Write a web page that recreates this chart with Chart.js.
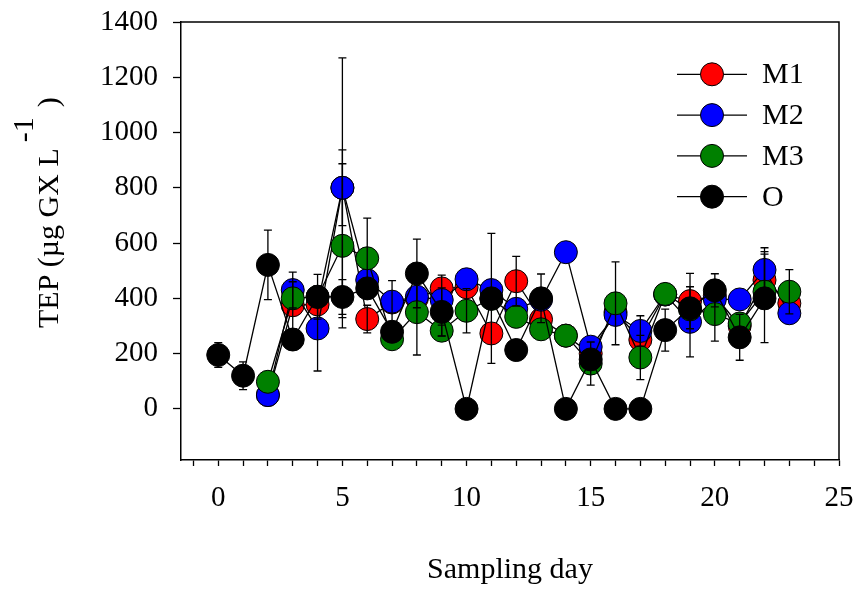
<!DOCTYPE html>
<html><head><meta charset="utf-8">
<script src="https://cdn.jsdelivr.net/npm/chart.js@4/dist/chart.umd.min.js"></script>
<style>html,body{margin:0;padding:0;background:#fff}</style>
</head><body>
<canvas id="c" width="859" height="592"></canvas>
<script>
// ---- data ----
const days = [0,1,2,3,4,5,6,7,8,9,10,11,12,13,14,15,16,17,18,19,20,21,22,23];
const seriesNames = ['M1','M2','M3','O'];
const seriesColors = ['#ff0000','#0000ff','#008000','#000000'];
const M1 = [null,null,50,375,378,800,325,385,400,436,440,273,462,324,265,200,350,250,414,390,410,300,466,382];
const M2 = [null,null,50,430,291,800,466,388,406,394,469,430,362,395,567,225,340,282,414,315,396,396,503,346];
const M3 = [null,null,98,400,405,590,545,252,350,283,355,398,333,288,265,164,382,186,416,360,343,309,424,424];
const O  = [195,120,521,251,406,405,436,279,490,351,0,400,213,400,0,179,0,0,285,364,429,259,400,null];
const M1err = [0,0,0,85,0,137,50,0,0,48,0,0,90,0,0,0,0,0,0,100,0,0,103,0];
const M2err = [0,0,0,65,154,470,0,76,0,0,0,0,0,0,0,0,0,55,0,127,0,0,80,0];
const M3err = [0,0,0,0,0,297,145,0,155,20,80,0,0,0,0,78,150,80,0,0,98,0,0,80];
const Oerr  = [45,50,126,0,81,63,0,0,124,87,0,235,0,88,0,0,0,0,76,0,60,83,160,0];
const xTickValues = [-1,0,1,2,3,4,5,6,7,8,9,10,11,12,13,14,15,16,17,18,19,20,21,22,23,24,25];
const xLabelValues = [0,5,10,15,20,25];
const yTickValues = [0,200,400,600,800,1000,1200,1400];
const xTitle = 'Sampling day';
const yTitleMain = 'TEP (\u00b5g GX L';
const yTitleSup = '-1';
const yTitleEnd = ')';

const FONT = '"Liberation Serif", "Times New Roman", serif';
const values = [M1, M2, M3, O];
const errs = [M1err, M2err, M3err, Oerr];

const datasets = seriesNames.map((name, k) => ({
  label: name,
  data: days.map((d, i) => ({x: d, y: values[k][i]})),
  borderColor: '#000',
  borderWidth: 1.3,
  pointRadius: 11.5,
  pointBackgroundColor: seriesColors[k],
  pointBorderColor: '#000',
  pointBorderWidth: 1,
  fill: false,
  tension: 0,
  order: 3 - k,
  errs: errs[k]
}));

const errorBars = {
  id: 'errorBars',
  afterDatasetsDraw(chart) {
    const {ctx, scales: {x, y}} = chart;
    ctx.save();
    ctx.strokeStyle = '#000';
    ctx.lineWidth = 1.3;
    chart.data.datasets.forEach(ds => {
      ds.data.forEach((p, i) => {
        const e = ds.errs[i];
        if (p.y === null || !e) return;
        const px = x.getPixelForValue(p.x);
        const yt = y.getPixelForValue(p.y + e);
        const yb = y.getPixelForValue(p.y - e);
        ctx.beginPath();
        ctx.moveTo(px, yt); ctx.lineTo(px, yb);
        ctx.moveTo(px - 4, yt); ctx.lineTo(px + 4, yt);
        ctx.moveTo(px - 4, yb); ctx.lineTo(px + 4, yb);
        ctx.stroke();
      });
    });
    ctx.restore();
  }
};

const decorations = {
  id: 'decorations',
  afterDraw(chart) {
    const {ctx, chartArea: a} = chart;
    ctx.save();
    // top and right frame lines
    ctx.strokeStyle = '#000';
    ctx.lineWidth = 1.5;
    ctx.beginPath();
    ctx.moveTo(a.left, a.top); ctx.lineTo(a.right, a.top); ctx.lineTo(a.right, a.bottom);
    ctx.stroke();
    // legend
    ctx.font = '30px ' + FONT;
    ctx.textBaseline = 'middle';
    ctx.fillStyle = '#000';
    seriesNames.forEach((name, k) => {
      const cy = 74.3 + k * 40.8;
      ctx.lineWidth = 1.3;
      ctx.strokeStyle = '#000';
      ctx.beginPath(); ctx.moveTo(677, cy); ctx.lineTo(747, cy); ctx.stroke();
      ctx.beginPath(); ctx.arc(712, cy, 11.5, 0, Math.PI * 2);
      ctx.fillStyle = seriesColors[k]; ctx.fill();
      ctx.lineWidth = 1; ctx.stroke();
      ctx.fillStyle = '#000';
      ctx.textAlign = 'left';
      ctx.fillText(name, 762, cy + 1);
    });
    // x title
    ctx.textAlign = 'center';
    ctx.textBaseline = 'alphabetic';
    ctx.fillText(xTitle, (a.left + a.right) / 2, 578);
    // y title (rotated)
    ctx.translate(58, 328);
    ctx.rotate(-Math.PI / 2);
    ctx.textAlign = 'left';
    ctx.fillText(yTitleMain, 0, 0);
    const w = ctx.measureText(yTitleMain).width;
    ctx.fillText(yTitleSup, w + 6, -25);
    const w2 = ctx.measureText(yTitleSup).width;
    ctx.fillText(yTitleEnd, w + 6 + w2 + 10, 0);
    ctx.restore();
  }
};

new Chart(document.getElementById('c'), {
  type: 'line',
  data: {datasets},
  options: {
    responsive: false,
    animation: false,
    layout: {padding: {left: 0, top: 22, right: 20, bottom: 0}},
    plugins: {legend: {display: false}, tooltip: {enabled: false}},
    scales: {
      x: {
        type: 'linear', min: -1.5, max: 25,
        afterFit(s) { s.height = 132; s.paddingLeft = 0; s.paddingRight = 0; },
        afterBuildTicks(s) { s.ticks = xTickValues.map(v => ({value: v})); },
        ticks: {
          autoSkip: false, maxRotation: 0, color: '#000', padding: 15,
          font: {family: FONT, size: 29},
          callback: v => xLabelValues.includes(v) ? String(v) : ''
        },
        grid: {drawOnChartArea: false, tickLength: 6, color: '#000', tickWidth: 1.3},
        border: {color: '#000', width: 1.5}
      },
      y: {
        type: 'linear', min: -185, max: 1400,
        afterFit(s) { s.width = 181; s.paddingTop = 0; s.paddingBottom = 0; },
        afterBuildTicks(s) { s.ticks = yTickValues.map(v => ({value: v})); },
        ticks: {
          color: '#000', padding: 15,
          font: {family: FONT, size: 29},
          callback: v => String(v)
        },
        grid: {drawOnChartArea: false, tickLength: 8, color: '#000', tickWidth: 1.3},
        border: {color: '#000', width: 1.5}
      }
    }
  },
  plugins: [errorBars, decorations]
});
</script>
</body></html>
